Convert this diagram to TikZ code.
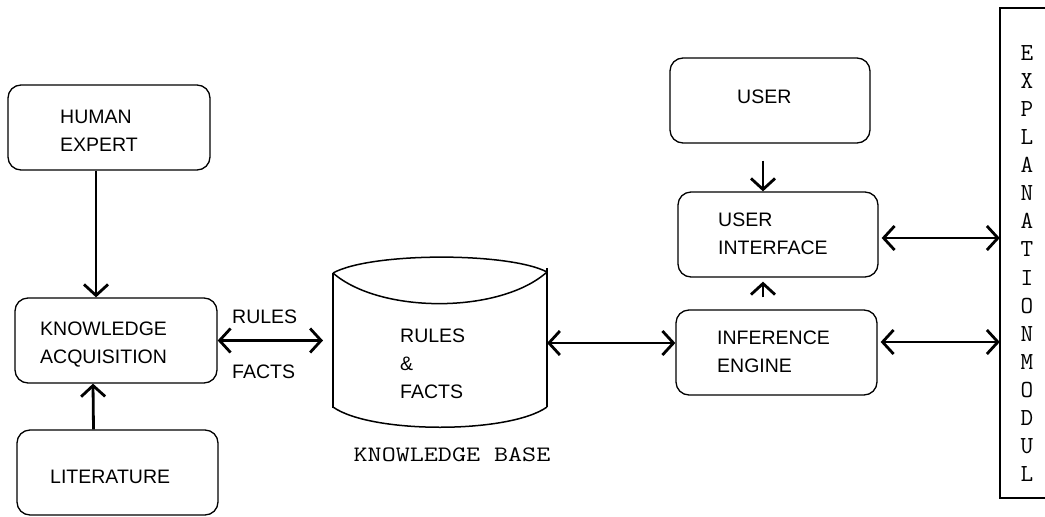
\documentclass[tikz,border=0pt]{standalone}
\usepackage{fontspec}
\setmainfont{Liberation Sans}
\usetikzlibrary{arrows.meta}
\tikzset{
  box/.style={draw, line width=1.3pt, rounded corners=13pt, inner sep=0pt, minimum width=201pt, minimum height=85pt},
  txt/.style={anchor=west, inner sep=0pt, align=left, font=\fontsize{19.5}{28}\selectfont},
  barb/.tip={Straight Barb[length=11pt, width=24pt]},
  arr/.style={line width=2.8pt, -barb},
  darr/.style={line width=2.8pt, barb-barb},
  thinline/.style={line width=1.5pt}
}
\begin{document}
\begin{tikzpicture}[x=1pt,y=-1pt]
\useasboundingbox[fill=white] (0,0) rectangle (1045,517);

% boxes
\node[box, minimum width=202pt] (he) at (109,127.5) {};
\node[box, minimum width=202pt] (ka) at (116,340.5) {};
\node[box] (lit) at (117.5,472.5) {};
\node[box, minimum width=200pt] (user) at (770,100.5) {};
\node[box, minimum width=200pt] (ui) at (778,234.5) {};
\node[box] (ie) at (776.5,352.5) {};

% box texts
\node[txt] (het) at (60,131) {HUMAN\\EXPERT};
\node[txt] (kat) at (40,345) {KNOWLEDGE\\ACQUISITION};
\node[txt] (litt) at (50,477) {LITERATURE};
\node[txt] (usert) at (737,97) {USER};
\node[txt] (uit) at (718,234) {USER\\INTERFACE};
\node[txt] (iet) at (717,351.5) {INFERENCE\\ENGINE};

% knowledge base cylinder
\node[inner sep=0pt, minimum width=214pt, minimum height=135pt] (kb) at (440,340.5) {};
\draw[thinline] (333,273) .. controls (371,252) and (509,252) .. (547,272);
\draw[thinline] (333,273) .. controls (380,314) and (500,314) .. (547,272);
\draw[thinline] (333,273) -- (333,408);
\draw[thinline] (547,268) -- (547,407);
\draw[thinline] (333,407) .. controls (371,434) and (509,434) .. (547,407);
\node[txt] (kbt) at (400,364) {RULES\\\&\\FACTS};
\node[inner sep=0pt, font=\ttfamily\fontsize{22}{28}\selectfont] (kbl) at (452,455) {\scalebox{1.24}[1]{KNOWLEDGE BASE}};

% explanation module
\node[inner sep=0pt, minimum width=50pt, minimum height=490pt] (expl) at (1025,253) {};
\draw[thinline] (expl.north east) -- (expl.north west) -- (expl.south west) -- (expl.south east);
\node[inner sep=0pt, align=center, font=\ttfamily\fontsize{24.5}{28.07}\selectfont] (explt) at (1027,263.5)
  {E\\X\\P\\L\\A\\N\\A\\T\\I\\O\\N\\M\\O\\D\\U\\L};

% labels
\node[txt] (rl) at (232,317) {RULES};
\node[txt] (fl) at (232,372) {FACTS};

% connectors
\draw[arr] ([xshift=-13pt]he.south) -- ([xshift=-20pt]ka.north);
\draw[arr] ([xshift=-24pt]lit.north) -- ([xshift=-23pt]ka.south);
\coordinate (kbin) at (323,340.5);
\draw[darr] (ka.east) -- (kbin);
\coordinate (kbout) at (547,343);
\draw[darr] (kbout) -- (kbout -| ie.west);
\coordinate (us) at ([xshift=-7pt, yshift=-17pt]user.south);
\draw[arr] (us) -- (us |- ui.north);
\coordinate (ies) at ([xshift=-13.5pt, yshift=12pt]ie.north);
\coordinate (uis) at ([yshift=-4pt]ui.south);
\draw[arr] (ies) -- (ies |- uis);
\coordinate (a1) at ([xshift=3pt, yshift=-3.5pt]ui.east);
\draw[darr] (a1) -- (a1 -| expl.west);
\coordinate (a2) at ([xshift=3pt, yshift=10.5pt]ie.east);
\draw[darr] (a2) -- (a2 -| expl.west);
\end{tikzpicture}
\end{document}
